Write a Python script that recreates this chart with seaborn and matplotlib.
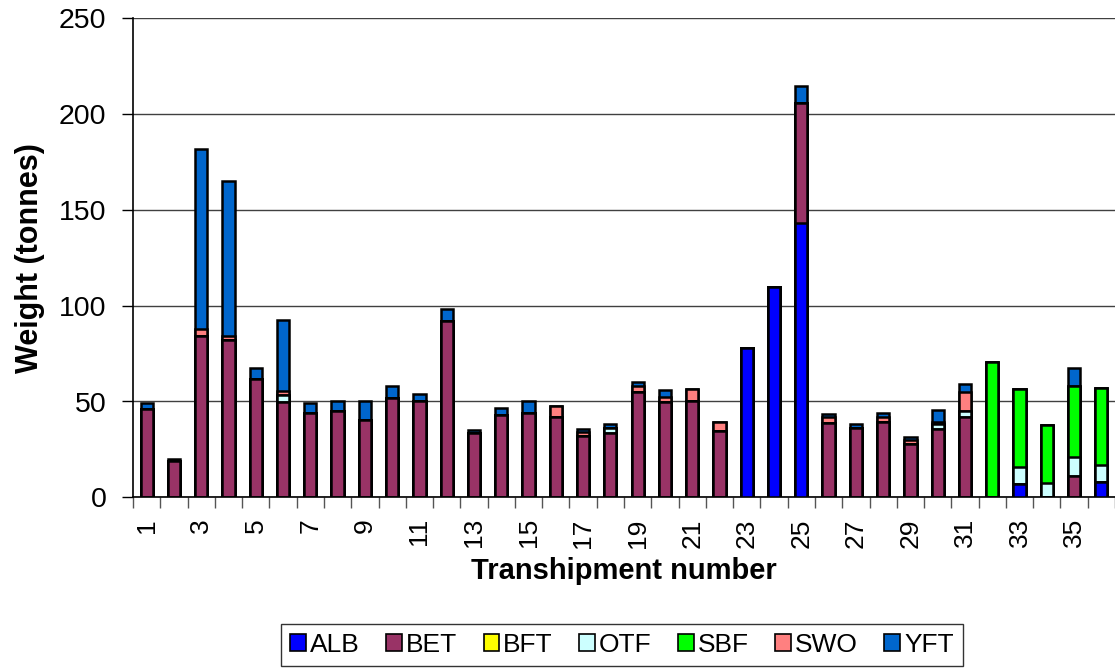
import numpy as np
import pandas as pd
import matplotlib
matplotlib.use("Agg")
import matplotlib.pyplot as plt
from matplotlib.patches import Patch
import seaborn as sns

# ---------------------------
# Data (tonnes per transhipment)
# ---------------------------

transhipments = list(range(1, 37))

ALB = [0, 0, 0, 0, 0, 0, 0, 0, 0, 0, 0, 0, 0, 0, 0, 0, 0, 0,
       0, 0, 0, 0, 78, 110, 143, 0, 0, 0, 0, 0, 0, 0, 7, 0, 0, 8]
BET = [46, 19, 84, 82, 62, 49.5, 44, 45, 40.5, 52, 50.5, 92, 33.5, 43, 44, 42, 32, 33.5,
       55, 49.5, 50.5, 34.5, 0, 0, 63, 39, 36, 39.5, 28, 35.5, 42, 0, 0, 0, 11, 0]
BFT = [0] * 36
OTF = [0, 0, 0, 0, 0, 4, 0, 0, 0, 0, 0, 0, 0, 0, 0, 0, 0, 2.5,
       0, 0, 0, 0, 0, 0, 0, 0, 0, 0, 0, 2.5, 3, 0, 9, 7.5, 10, 9]
SBF = [0, 0, 0, 0, 0, 0, 0, 0, 0, 0, 0, 0, 0, 0, 0, 0, 0, 0,
       0, 0, 0, 0, 0, 0, 0, 0, 0, 0, 0, 0, 0, 70.5, 40.5, 30, 37, 40]
SWO = [0, 0, 4, 2, 0, 2, 0, 0, 0, 0, 0, 0, 0, 0, 0, 5.5, 2, 0,
       3, 3, 6, 5, 0, 0, 0, 3, 0, 2.5, 2, 1.5, 10, 0, 0, 0, 0, 0]
YFT = [3, 1, 94, 81, 5.5, 37, 5, 5.5, 9.5, 6, 3.5, 6.5, 1.5, 3.5, 6, 0, 1.5, 2.5,
       2, 3.5, 0, 0, 0, 0, 8.5, 1.5, 2.5, 2, 1.5, 6, 4, 0, 0, 0, 9.5, 0]

species = ["ALB", "BET", "BFT", "OTF", "SBF", "SWO", "YFT"]
colors = {"ALB": "#0000FF", "BET": "#993366", "BFT": "#FFFF00", "OTF": "#CCFFFF",
          "SBF": "#00FF00", "SWO": "#FF8080", "YFT": "#0066CC"}

df = pd.DataFrame({"ALB": ALB, "BET": BET, "BFT": BFT, "OTF": OTF,
                   "SBF": SBF, "SWO": SWO, "YFT": YFT}, index=transhipments)
cum = df.cumsum(axis=1)

# ---------------------------
# Plot
# ---------------------------

sns.set_style("white")
plt.rcParams['font.family'] = ['Liberation Sans', 'DejaVu Sans']
plt.rcParams.update({"text.color": "black", "axes.labelcolor": "black",
                     "xtick.color": "black", "ytick.color": "black"})

fig = plt.figure(figsize=(11.15, 6.68), dpi=100)
ax = fig.add_axes([133 / 1115, 1 - 497.3 / 668, 1 - 133 / 1115, (497.3 - 18.3) / 668])

# stacked bars: draw cumulative totals from the top layer down
for sp in reversed(species):
    sns.barplot(x=cum.index.astype(str), y=cum[sp].values, color=colors[sp],
                width=0.45, edgecolor="black", linewidth=1.8, saturation=1,
                ax=ax, zorder=3)

ax.set_xlim(-0.5, 35.5)
ax.set_ylim(0, 250)
ax.set_yticks(range(0, 251, 50))
ax.yaxis.grid(True, color="#404040", linewidth=1.0, zorder=0)
ax.set_axisbelow(True)

# major ticks between categories, labels on odd numbers
ax.set_xticks(np.arange(-0.5, 36, 1))
ax.set_xticklabels([])
ax.set_xticks(np.arange(0, 36, 2), minor=True)
ax.set_xticklabels([str(n) for n in transhipments[::2]], minor=True,
                   rotation=90, fontsize=19)
ax.tick_params(axis="x", which="major", direction="out", length=8, width=1, color="#555555",
               bottom=True)
ax.tick_params(axis="x", which="minor", length=0, pad=15)
ax.tick_params(axis="y", direction="out", length=8, width=1, left=True, labelsize=20.5, pad=11)

for side in ["top", "right"]:
    ax.spines[side].set_visible(False)
ax.spines["left"].set_color("black")
ax.spines["bottom"].set_color("black")
ax.spines["left"].set_linewidth(1.2)
ax.spines["bottom"].set_linewidth(1.2)

ax.set_xlabel("Transhipment number", fontsize=21, fontweight="bold")
ax.xaxis.set_label_coords(0.5, (497.3 - 557) / 479)
ax.set_ylabel("Weight (tonnes)", fontsize=22, fontweight="bold", labelpad=10)

handles = [Patch(facecolor=colors[sp], edgecolor="black", linewidth=1.2, label=sp)
           for sp in species]
leg = fig.legend(handles=handles, loc="center", ncol=7,
                 bbox_to_anchor=(622 / 1115, 1 - 645 / 668), fontsize=19,
                 frameon=True, fancybox=False, edgecolor="black",
                 handlelength=0.6, handleheight=0.6, handletextpad=0.15,
                 columnspacing=1.0, borderpad=0.35)
leg.get_frame().set_linewidth(1.0)

fig.savefig("out.png", dpi=100)
